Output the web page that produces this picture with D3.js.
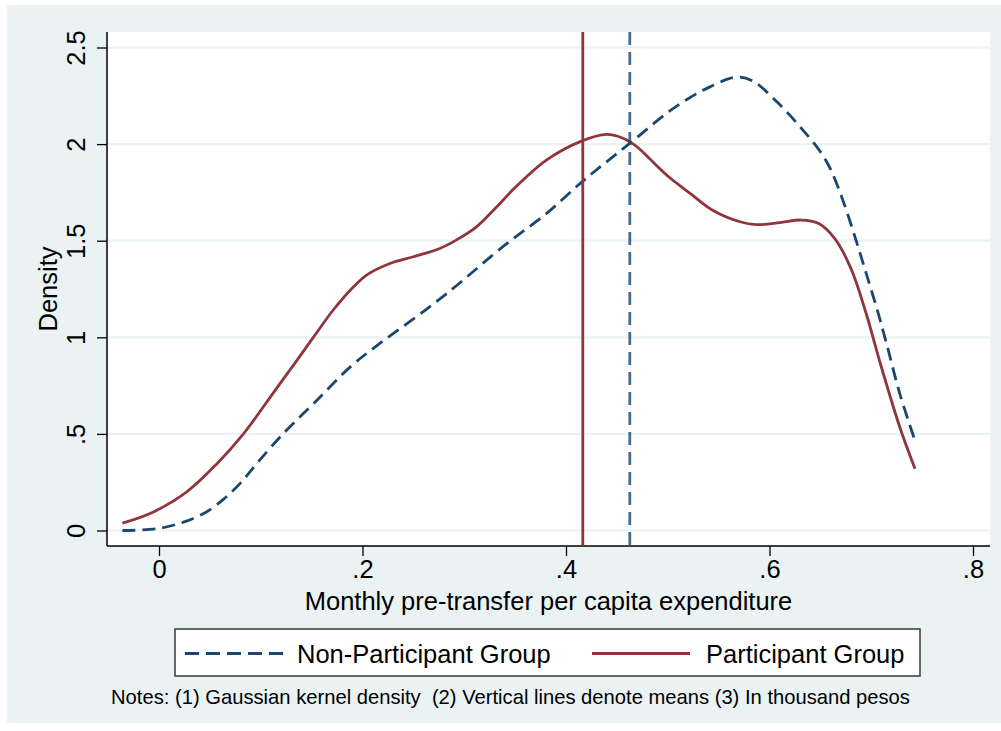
<!DOCTYPE html>
<html>
<head>
<meta charset="utf-8">
<script src="https://cdn.jsdelivr.net/npm/d3@7"></script>
<style>
  html, body { margin: 0; padding: 0; background: #ffffff; }
  svg { display: block; font-family: Arial, "Liberation Sans", sans-serif; }
</style>
</head>
<body>
<svg id="chart" width="1001" height="731"></svg>
<script>
// Kernel density estimates of monthly pre-transfer per capita expenditure
const nonPartX = [-0.036, -0.002, 0.024, 0.035, 0.047, 0.063, 0.080, 0.096, 0.122, 0.152, 0.188, 0.217, 0.250, 0.283, 0.338, 0.381, 0.414, 0.436, 0.463, 0.499, 0.520, 0.541, 0.567, 0.583, 0.607, 0.630, 0.650, 0.660, 0.672, 0.685, 0.695, 0.705, 0.715, 0.728, 0.744];
const nonPartY = [0.000, 0.009, 0.043, 0.066, 0.097, 0.160, 0.245, 0.346, 0.501, 0.657, 0.847, 0.968, 1.095, 1.227, 1.469, 1.642, 1.797, 1.892, 2.005, 2.160, 2.235, 2.295, 2.346, 2.328, 2.220, 2.090, 1.960, 1.870, 1.711, 1.503, 1.331, 1.158, 0.968, 0.709, 0.449];

const partX = [-0.036, -0.006, 0.027, 0.057, 0.083, 0.112, 0.132, 0.152, 0.171, 0.188, 0.204, 0.227, 0.250, 0.276, 0.292, 0.312, 0.332, 0.351, 0.381, 0.414, 0.440, 0.456, 0.470, 0.482, 0.500, 0.522, 0.545, 0.571, 0.587, 0.610, 0.631, 0.648, 0.664, 0.680, 0.695, 0.708, 0.728, 0.743];
const partY = [0.038, 0.095, 0.199, 0.346, 0.500, 0.710, 0.855, 1.002, 1.140, 1.244, 1.322, 1.382, 1.417, 1.460, 1.503, 1.572, 1.676, 1.780, 1.918, 2.013, 2.050, 2.030, 1.985, 1.925, 1.835, 1.745, 1.655, 1.598, 1.583, 1.593, 1.607, 1.590, 1.512, 1.357, 1.123, 0.881, 0.536, 0.320];

// Group means (vertical reference lines)
const meanNonPart = 0.4627;
const meanPart = 0.4165;

// Axis ticks
const xTicks = [0, 0.2, 0.4, 0.6, 0.8];
const xTickLabels = ["0", ".2", ".4", ".6", ".8"];
const yTicks = [0, 0.5, 1, 1.5, 2, 2.5];
const yTickLabels = ["0", ".5", "1", "1.5", "2", "2.5"];

const seriesNames = ["Non-Participant Group", "Participant Group"];
const xTitle = "Monthly pre-transfer per capita expenditure";
const yTitle = "Density";
const notes = "Notes: (1) Gaussian kernel density  (2) Vertical lines denote means (3) In thousand pesos";

const BLUE = "#1a476f";
const RED = "#90353b";
const BG = "#eaf2f3";

const svg = d3.select("#chart");

// Plot frame
const plot = { left: 107, top: 32, right: 990, bottom: 546 };

const x = d3.scaleLinear().domain([0, 0.8]).range([159, 973]);
const y = d3.scaleLinear().domain([0, 2.5]).range([530.5, 47.5]);

// Graph background and plot region
svg.append("rect").attr("x", 7).attr("y", 5).attr("width", 994).attr("height", 718).attr("fill", BG);
svg.append("rect").attr("x", plot.left).attr("y", plot.top)
  .attr("width", plot.right - plot.left).attr("height", plot.bottom - plot.top).attr("fill", "#ffffff");

// Horizontal grid lines
svg.append("g").selectAll("line").data(yTicks).join("line")
  .attr("x1", plot.left).attr("x2", plot.right)
  .attr("y1", d => y(d)).attr("y2", d => y(d))
  .attr("stroke", BG).attr("stroke-width", 2.2);

// Axes
const xAxis = svg.append("g").attr("transform", `translate(0,${plot.bottom})`)
  .call(d3.axisBottom(x).tickValues(xTicks).tickFormat((d, i) => xTickLabels[i]).tickSize(10).tickSizeOuter(0));
xAxis.select(".domain").remove();
xAxis.append("line").attr("x1", plot.left).attr("x2", plot.right).attr("y1", 0).attr("y2", 0)
  .attr("stroke", "#000").attr("stroke-width", 1.5);
xAxis.selectAll(".tick line").attr("stroke", "#000").attr("stroke-width", 1.3);
xAxis.selectAll(".tick text").attr("fill", "#000").attr("font-size", 25.5)
  .attr("y", 14).attr("dy", "0.71em").attr("font-family", "Arial, 'Liberation Sans', sans-serif");

const yAxis = svg.append("g").attr("transform", `translate(${plot.left},0)`)
  .call(d3.axisLeft(y).tickValues(yTicks).tickFormat((d, i) => yTickLabels[i]).tickSize(10).tickSizeOuter(0));
yAxis.select(".domain").remove();
yAxis.append("line").attr("x1", 0).attr("x2", 0).attr("y1", plot.top).attr("y2", plot.bottom)
  .attr("stroke", "#000").attr("stroke-width", 1.5);
yAxis.selectAll(".tick line").attr("stroke", "#000").attr("stroke-width", 1.3);
yAxis.selectAll(".tick text")
  .attr("fill", "#000").attr("font-size", 25.5).attr("font-family", "Arial, 'Liberation Sans', sans-serif")
  .attr("x", null).attr("dy", null)
  .attr("text-anchor", "middle")
  .attr("transform", "translate(-22,0) rotate(-90)");

// Axis titles
svg.append("text").attr("x", (plot.left + plot.right) / 2).attr("y", 610)
  .attr("text-anchor", "middle").attr("font-size", 25.5).attr("fill", "#000").text(xTitle);
svg.append("text").attr("transform", `translate(57,${(plot.top + plot.bottom) / 2}) rotate(-90)`)
  .attr("text-anchor", "middle").attr("font-size", 25.5).attr("fill", "#000").text(yTitle);

// Density curves
const line = d3.line().x(d => x(d[0])).y(d => y(d[1])).curve(d3.curveCatmullRom.alpha(0.5));
const nonPart = nonPartX.map((v, i) => [v, nonPartY[i]]);
const part = partX.map((v, i) => [v, partY[i]]);

svg.append("path").datum(nonPart).attr("d", line).attr("fill", "none")
  .attr("stroke", BLUE).attr("stroke-width", 2.8).attr("stroke-dasharray", "13,7");
svg.append("path").datum(part).attr("d", line).attr("fill", "none")
  .attr("stroke", RED).attr("stroke-width", 2.8);

// Mean lines
svg.append("line").attr("x1", x(meanPart)).attr("x2", x(meanPart))
  .attr("y1", plot.top).attr("y2", plot.bottom)
  .attr("stroke", RED).attr("stroke-width", 2.8);
svg.append("line").attr("x1", x(meanNonPart)).attr("x2", x(meanNonPart))
  .attr("y1", plot.top).attr("y2", plot.bottom)
  .attr("stroke", BLUE).attr("stroke-opacity", 0.8).attr("stroke-width", 2.8).attr("stroke-dasharray", "13,7");

// Legend
const legend = svg.append("g");
legend.append("rect").attr("x", 175).attr("y", 629).attr("width", 745).attr("height", 47)
  .attr("fill", "#ffffff").attr("stroke", "#3a3a3a").attr("stroke-width", 1.5);
const legendItems = [
  { name: seriesNames[0], color: BLUE, dash: "14,7", x0: 185, tx: 297 },
  { name: seriesNames[1], color: RED, dash: null, x0: 592, tx: 706 }
];
legendItems.forEach(it => {
  legend.append("line").attr("x1", it.x0).attr("x2", it.x0 + 98).attr("y1", 653.5).attr("y2", 653.5)
    .attr("stroke", it.color).attr("stroke-width", 2.8).attr("stroke-dasharray", it.dash);
  legend.append("text").attr("x", it.tx).attr("y", 663).attr("font-size", 25.5)
    .attr("fill", "#000").text(it.name);
});

// Notes
svg.append("text").attr("x", 111).attr("y", 704).attr("font-size", 20.2).attr("fill", "#000")
  .style("white-space", "pre").text(notes);
</script>
</body>
</html>
